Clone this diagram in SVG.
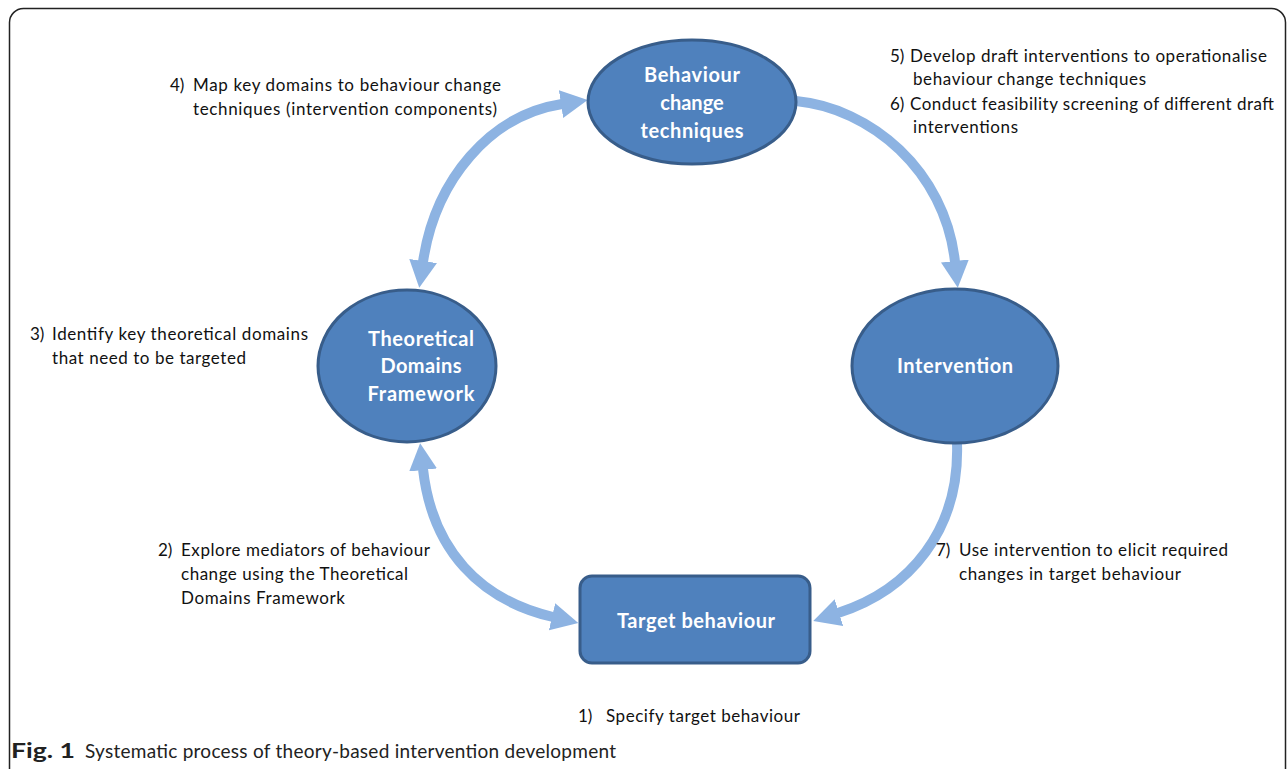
<svg xmlns="http://www.w3.org/2000/svg" width="1287" height="769" viewBox="0 0 1287 769">
<style>
.node{fill:#4F81BD;stroke:#385D8A;stroke-width:3}
.nl{font-family:Lato,"Liberation Sans",sans-serif;font-weight:bold;font-size:20px;fill:#fff;text-anchor:middle}
.lab{font-family:Lato,"Liberation Sans",sans-serif;font-size:17px;fill:#111}
.conn{fill:none;stroke:#8DB3E2;stroke-width:10}
.cap{font-family:Lato,"Liberation Sans",sans-serif;font-size:19px;fill:#222}
</style>
<defs>
<marker id="ah" viewBox="0 0 27 28" refX="1" refY="14" markerWidth="27" markerHeight="28" markerUnits="userSpaceOnUse" orient="auto-start-reverse">
<path d="M0,0 L27,14 L0,28 z" fill="#8DB3E2"/>
</marker>
</defs>
<rect x="9.5" y="8.5" width="1276" height="800" rx="14" fill="#fff" stroke="#222" stroke-width="1.5"/>
<g id="connectors">
<path class="conn" d="M423,262 C435,180 490,115 562,104" marker-start="url(#ah)" marker-end="url(#ah)"/>
<path class="conn" d="M796,101 C870,108 945,170 955,262" marker-end="url(#ah)"/>
<path class="conn" d="M423,469 C432,550 480,600 553,617" marker-start="url(#ah)" marker-end="url(#ah)"/>
<path class="conn" d="M957,443 C960,530 910,590 838,613" marker-end="url(#ah)"/>
</g>
<g id="bct">
<ellipse class="node" cx="692" cy="102" rx="104" ry="62"/>
<text class="nl" x="692" y="82" textLength="96">Behaviour</text>
<text class="nl" x="692" y="110">change</text>
<text class="nl" x="692" y="138" textLength="103">techniques</text>
</g>
<g id="tdf">
<ellipse class="node" cx="407" cy="366" rx="89" ry="76"/>
<text class="nl" x="421" y="346" textLength="106">Theoretical</text>
<text class="nl" x="421" y="373" textLength="81">Domains</text>
<text class="nl" x="421" y="401" textLength="107">Framework</text>
</g>
<g id="intervention">
<ellipse class="node" cx="955" cy="366" rx="103" ry="77"/>
<text class="nl" x="955" y="373" textLength="116">Intervention</text>
</g>
<g id="target">
<rect class="node" x="580" y="576" width="230" height="87" rx="12"/>
<text class="nl" x="696" y="628" textLength="158">Target behaviour</text>
</g>
<g id="labels">
<text class="lab" y="91"><tspan x="170">4)</tspan><tspan x="193" textLength="308">Map key domains to behaviour change</tspan></text>
<text class="lab" x="193" y="115" textLength="304">techniques (intervention components)</text>
<text class="lab" y="62"><tspan x="890">5)</tspan><tspan x="910" textLength="357">Develop draft interventions to operationalise</tspan></text>
<text class="lab" x="913" y="85" textLength="233">behaviour change techniques</text>
<text class="lab" y="110"><tspan x="890">6)</tspan><tspan x="910" textLength="364">Conduct feasibility screening of different draft</tspan></text>
<text class="lab" x="913" y="133" textLength="105">interventions</text>
<text class="lab" y="340"><tspan x="30">3)</tspan><tspan x="52" textLength="256">Identify key theoretical domains</tspan></text>
<text class="lab" x="52" y="364" textLength="194">that need to be targeted</text>
<text class="lab" y="556"><tspan x="158">2)</tspan><tspan x="181" textLength="249">Explore mediators of behaviour</tspan></text>
<text class="lab" x="181" y="580" textLength="227">change using the Theoretical</text>
<text class="lab" x="181" y="604" textLength="164">Domains Framework</text>
<text class="lab" y="556"><tspan x="936">7)</tspan><tspan x="959" textLength="269">Use intervention to elicit required</tspan></text>
<text class="lab" x="959" y="580" textLength="222">changes in target behaviour</text>
<text class="lab" y="722"><tspan x="578">1)</tspan><tspan x="606" textLength="194">Specify target behaviour</tspan></text>
</g>
<g id="caption">
<text class="cap" y="758"><tspan x="11" font-weight="bold" font-size="21" textLength="64" lengthAdjust="spacingAndGlyphs">Fig. 1</tspan><tspan x="85" textLength="531">Systematic process of theory-based intervention development</tspan></text>
</g>
</svg>
